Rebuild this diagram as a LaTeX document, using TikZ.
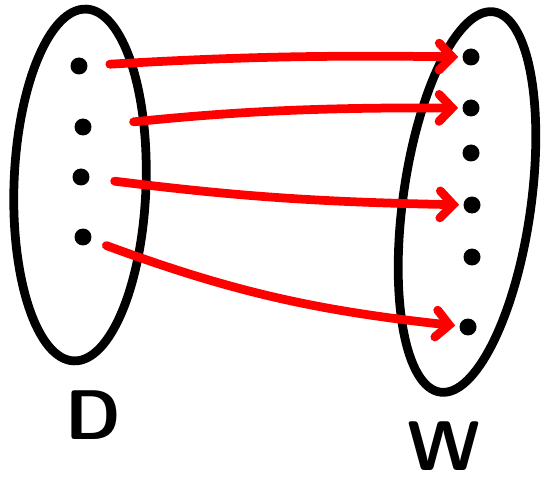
\documentclass[tikz,border=0pt]{standalone}
\usepackage{tikz}
\usetikzlibrary{arrows.meta, positioning, shapes.geometric}
\definecolor{colInk}{HTML}{000000}
\definecolor{colMap}{HTML}{FF0000}
\tikzset{
  setbox/.style={
    draw=colInk, ellipse, line width=1.75mm, inner sep=0pt
  },
  elem/.style={
    circle, fill=colInk, minimum size=3.4mm, inner sep=0pt
  },
  setlabel/.style={
    font=\fontsize{40}{40}\selectfont\sffamily\bfseries, text=colInk, inner sep=0pt
  },
  maparr/.style={
    -{Straight Barb[length=2.6mm,width=5.4mm,line cap=round]},
    line width=1.75mm, draw=colMap, line cap=round
  }
}
\begin{document}
\begin{tikzpicture}[x=0.02cm, y=-0.02cm]
  \useasboundingbox (0,0) rectangle (547,489);
  % the two sets
  \node[setbox, minimum width=132*0.02cm, minimum height=352*0.02cm, rotate=-2] (setD) at (80,185) {};
  \node[setbox, minimum width=128*0.02cm, minimum height=384*0.02cm, rotate=-8] (setW) at (467,202) {};
  % elements of D
  \node[elem] (d1) at (79,66)  {};
  \node[elem] (d2) at (83,127) {};
  \node[elem] (d3) at (81,177) {};
  \node[elem] (d4) at (83,237) {};
  % elements of W
  \node[elem] (w1) at (471,57)  {};
  \node[elem] (w2) at (471,108) {};
  \node[elem] (w3) at (471,153) {};
  \node[elem] (w4) at (472,205) {};
  \node[elem] (w5) at (472,257) {};
  \node[elem] (w6) at (468,327) {};
  % labels
  \node[setlabel] (labD) at (93,415) {D};
  \node[setlabel] (labW) at (444,446) {W};
  % the mapping
  \draw[maparr, shorten <=22*0.02cm, shorten >=4*0.02cm] (d1) to[bend left=2] (w1);
  \draw[maparr, shorten <=42*0.02cm, shorten >=4*0.02cm] (d2) to[bend left=3] (w2);
  \draw[maparr, shorten <=25*0.02cm, shorten >=4*0.02cm] (d3) to[bend right=3] (w4);
  \draw[maparr, shorten <=16*0.02cm, shorten >=4*0.02cm] (d4) to[bend right=7] (w6);
\end{tikzpicture}
\end{document}
